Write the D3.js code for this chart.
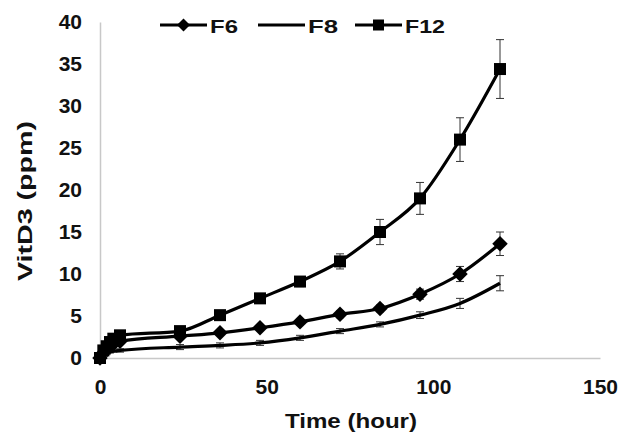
<!DOCTYPE html>
<html>
<head>
<meta charset="utf-8">
<script src="https://cdn.jsdelivr.net/npm/d3@7"></script>
<style>
  body { margin: 0; background: #fff; }
  svg text { font-family: "Liberation Sans", Arial, sans-serif; font-weight: bold; fill: #111; }
</style>
</head>
<body>
<div id="chart"></div>
<script>
// time points (hour)
var hours = [0, 1, 2, 3, 4, 6, 24, 36, 48, 60, 72, 84, 96, 108, 120];
// series values (ppm) and standard deviations
var f6  = [0, 0.6, 1.0, 1.4, 1.7, 2.0, 2.6, 3.0, 3.6, 4.3, 5.2, 5.9, 7.6, 10.0, 13.6];
var f6Err  = [0, 0.1, 0.1, 0.2, 0.2, 0.2, 0.3, 0.3, 0.3, 0.3, 0.4, 0.4, 0.6, 0.9, 1.4];
var f8  = [0, 0.3, 0.5, 0.7, 0.8, 0.9, 1.3, 1.5, 1.8, 2.4, 3.2, 4.0, 5.1, 6.5, 8.9];
var f8Err  = [0, 0.1, 0.1, 0.1, 0.1, 0.2, 0.3, 0.3, 0.3, 0.3, 0.3, 0.3, 0.4, 0.6, 0.9];
var f12 = [0, 0.9, 1.4, 1.9, 2.3, 2.7, 3.2, 5.1, 7.1, 9.1, 11.5, 15.0, 19.0, 26.0, 34.4];
var f12Err = [0, 0.1, 0.1, 0.2, 0.2, 0.2, 0.3, 0.4, 0.4, 0.6, 0.9, 1.5, 1.9, 2.6, 3.5];
var seriesNames = ["F6", "F8", "F12"];
var xTicks = [0, 50, 100, 150];
var yTicks = [0, 5, 10, 15, 20, 25, 30, 35, 40];

var W = 630, H = 439;
var margin = {left: 100, right: 30, top: 22, bottom: 81};

var svg = d3.select("#chart").append("svg")
  .attr("width", W).attr("height", H);

var x = d3.scaleLinear().domain([0, 150]).range([margin.left, W - margin.right]);
var y = d3.scaleLinear().domain([0, 40]).range([H - margin.bottom, margin.top]);

// axes
var xAxis = svg.append("g")
  .attr("transform", "translate(0," + y(0) + ")")
  .call(d3.axisBottom(x).tickValues(xTicks).tickSize(0).tickPadding(21));
var yAxis = svg.append("g")
  .attr("transform", "translate(" + x(0) + ",0)")
  .call(d3.axisLeft(y).tickValues(yTicks).tickSize(0).tickPadding(18));
[xAxis, yAxis].forEach(function(a) {
  a.select(".domain").attr("stroke", "#c8c8c8").attr("stroke-width", 1.5);
  a.selectAll("text").style("font-size", "21px");
});

// axis titles
svg.append("text")
  .attr("x", 351).attr("y", 428)
  .attr("text-anchor", "middle").style("font-size", "20px")
  .attr("textLength", 132).attr("lengthAdjust", "spacingAndGlyphs")
  .text("Time (hour)");
svg.append("text")
  .attr("transform", "translate(32,201) rotate(-90)")
  .attr("text-anchor", "middle").style("font-size", "20px")
  .attr("textLength", 160).attr("lengthAdjust", "spacingAndGlyphs")
  .text("VitD3 (ppm)");

var series = [
  {name: "F6", vals: f6, err: f6Err, marker: "diamond"},
  {name: "F8", vals: f8, err: f8Err, marker: "none"},
  {name: "F12", vals: f12, err: f12Err, marker: "square"}
];

var line = d3.line()
  .x(function(d) { return x(d.t); })
  .y(function(d) { return y(d.v); })
  .curve(d3.curveMonotoneX);

function drawMarker(g, kind, cx, cy, size) {
  if (kind == "square") {
    g.append("rect")
      .attr("x", cx - size / 2).attr("y", cy - size / 2)
      .attr("width", size).attr("height", size)
      .attr("fill", "#000");
  } else if (kind == "diamond") {
    g.append("path")
      .attr("d", d3.symbol().type(d3.symbolDiamond2).size(size * size * 0.9)())
      .attr("transform", "translate(" + cx + "," + cy + ")")
      .attr("fill", "#000");
  }
}

series.forEach(function(s) {
  var pts = hours.map(function(t, i) { return {t: t, v: s.vals[i], e: s.err[i]}; });
  var g = svg.append("g");
  // error bars
  pts.forEach(function(p) {
    if (p.e <= 0) return;
    var cx = x(p.t);
    g.append("line").attr("x1", cx).attr("x2", cx)
      .attr("y1", y(p.v - p.e)).attr("y2", y(p.v + p.e))
      .attr("stroke", "#333").attr("stroke-width", 1);
    [p.v - p.e, p.v + p.e].forEach(function(v) {
      g.append("line").attr("x1", cx - 4).attr("x2", cx + 4)
        .attr("y1", y(v)).attr("y2", y(v))
        .attr("stroke", "#333").attr("stroke-width", 1);
    });
  });
  g.append("path").datum(pts)
    .attr("d", line).attr("fill", "none")
    .attr("stroke", "#000").attr("stroke-width", 3.2);
  pts.forEach(function(p) {
    drawMarker(g, s.marker, x(p.t), y(p.v), s.marker == "square" ? 12 : 13);
  });
});

// legend
var legX = [160, 258, 355];
var legW = [28, 30, 40];
series.forEach(function(s, i) {
  var lg = svg.append("g").attr("transform", "translate(" + legX[i] + ",25)");
  lg.append("line").attr("x1", 0).attr("x2", 47).attr("y1", 0).attr("y2", 0)
    .attr("stroke", "#000").attr("stroke-width", 3);
  drawMarker(lg, s.marker, 23.5, 0, 11);
  lg.append("text").attr("x", 50).attr("y", 7.5)
    .style("font-size", "19px")
    .attr("textLength", legW[i]).attr("lengthAdjust", "spacingAndGlyphs")
    .text(s.name);
});
</script>
</body>
</html>
